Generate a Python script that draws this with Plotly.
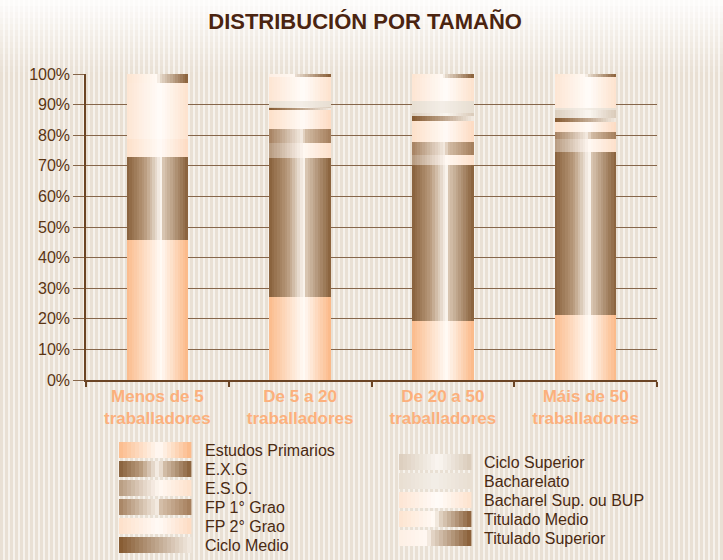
import plotly.graph_objects as go

# ---------------- data ----------------
categories = ["Menos de 5<br>traballadores", "De 5 a 20<br>traballadores",
              "De 20 a 50<br>traballadores", "Máis de 50<br>traballadores"]

series_names = ["Estudos Primarios", "E.X.G", "E.S.O.", "FP 1° Grao", "FP 2° Grao",
                "Ciclo Medio", "Ciclo Superior", "Bacharelato",
                "Bacharel Sup. ou BUP", "Titulado Medio", "Titulado Superior"]

estudos_primarios = [45.6, 27.1, 19.2, 21.1]
exg = [27.4, 45.6, 51.0, 53.5]
eso = [0.0, 4.6, 3.2, 4.1]
fp1 = [0.0, 4.6, 4.5, 2.4]
fp2 = [5.9, 6.3, 6.7, 3.3]
ciclo_medio = [0.0, 0.7, 1.6, 1.3]
ciclo_superior = [0.0, 0.3, 1.1, 2.4]
bacharelato = [0.0, 2.1, 3.8, 0.9]
bacharel_sup = [18.3, 7.6, 7.7, 9.9]
titulado_medio = [2.8, 0.0, 1.2, 1.1]
titulado_superior = [0.0, 1.1, 0.0, 0.0]

series_values = [estudos_primarios, exg, eso, fp1, fp2, ciclo_medio, ciclo_superior,
                 bacharelato, bacharel_sup, titulado_medio, titulado_superior]

y_tick_vals = [0, 10, 20, 30, 40, 50, 60, 70, 80, 90, 100]

# ---------------- styles (gradients) ----------------
gradients = [
    [(0, '#fbbb8b'), (0.56, '#fffaf5'), (1, '#fbb886')],                       # Estudos Primarios
    [(0, '#88603a'), (0.3, '#b89a7c'), (0.56, '#fbf6f0'), (0.6, '#d9c6b2'), (1, '#88603a')],  # EXG
    [(0, '#b69a7e'), (0.56, '#fff8f2'), (1, '#fde0ca')],                       # ESO
    [(0, '#a68160'), (0.55, '#f6eee5'), (0.57, '#d6c0aa'), (1, '#a47d5a')],    # FP1
    [(0, '#fde0c9'), (0.55, '#fffaf6'), (1, '#fddbc2')],                       # FP2
    [(0, '#85592f'), (1, '#f3ebe2')],                                          # Ciclo Medio
    [(0, '#dbcdbc'), (0.55, '#faf6f1'), (1, '#d9cab8')],                       # Ciclo Superior
    [(0, '#e8ded1'), (0.5, '#f3eee7'), (1, '#e8ded1')],                        # Bacharelato
    [(0, '#fde5d3'), (0.55, '#fffcf9'), (1, '#fde2cd')],                       # Bacharel Sup
    [(0, '#fde4d0'), (0.5, '#fffaf5'), (0.55, '#e6d9ca'), (1, '#8a6039')],     # Titulado Medio
    [(0, '#fdefe4'), (0.4, '#fff8f2'), (0.43, '#e9ddd0'), (1, '#875c34')],     # Titulado Superior
]


def hex2rgb(h):
    h = h.lstrip('#')
    return tuple(int(h[i:i + 2], 16) for i in (0, 2, 4))


def grad(stops, t):
    for (p0, c0), (p1, c1) in zip(stops[:-1], stops[1:]):
        if p0 <= t <= p1:
            f = 0 if p1 == p0 else (t - p0) / (p1 - p0)
            a, b = hex2rgb(c0), hex2rgb(c1)
            r = [round(a[k] + (b[k] - a[k]) * f) for k in range(3)]
            return 'rgb(%d,%d,%d)' % tuple(r)
    return stops[-1][1]


# geometry
W, H = 723, 560
L, R, T, B = 86, 66, 74, 180
PW, PH = W - L - R, H - T - B


def px(x):
    return (x - L) / PW


def py(y):
    return (H - B - y) / PH


fig = go.Figure()

N = 24
bar_w = 0.43
strip_w = bar_w / N
offsets = [-bar_w / 2 + (s + 0.5) * strip_w for s in range(N)]

for j, (name, vals) in enumerate(zip(series_names, series_values)):
    xs, ys, cols = [], [], []
    for i in range(len(categories)):
        for s in range(N):
            xs.append(i + offsets[s])
            ys.append(vals[i])
            cols.append(grad(gradients[j], (s + 0.5) / N))
    fig.add_trace(go.Bar(x=xs, y=ys, width=strip_w * 1.12, name=name,
                         marker=dict(color=cols, line=dict(width=0)),
                         showlegend=False, hoverinfo='skip'))

shapes = []
# background stripes
path = ''
for k in range(0, W // 5 + 2):
    x0, x1 = k * 5, k * 5 + 3
    path += 'M%.5f,%.5f H%.5f V%.5f H%.5f Z ' % (px(x0), py(0), px(x1), py(H), px(x0))
shapes.append(dict(type='path', path=path, xref='paper', yref='paper',
                   fillcolor='#e9e0d4', line=dict(width=0), layer='below'))
# top fade
fade_steps = 12
for k in range(fade_steps):
    y0 = k * 6
    op = 0.85 * (1 - k / fade_steps)
    shapes.append(dict(type='rect', xref='paper', yref='paper', x0=px(0), x1=px(W),
                       y0=py(y0), y1=py(y0 + 6), fillcolor='white', opacity=op,
                       line=dict(width=0), layer='below'))

annotations = []
# legend
left_rows = [450, 469, 488, 507, 526, 545]
right_rows = [462, 481, 500, 519, 538]
NS = 18
for j, name in enumerate(series_names):
    if j < 6:
        sx, cy, tx = 119, left_rows[j], 203
    else:
        sx, cy, tx = 399, right_rows[j - 6], 482
    sw = 72.0 / NS
    for s in range(NS):
        shapes.append(dict(type='rect', xref='paper', yref='paper',
                           x0=px(sx + s * sw), x1=px(sx + (s + 1) * sw + 0.4),
                           y0=py(cy + 8), y1=py(cy - 8),
                           fillcolor=grad(gradients[j], (s + 0.5) / NS),
                           line=dict(width=0), layer='above'))
    annotations.append(dict(xref='paper', yref='paper', x=px(tx), y=py(cy),
                            text=name, showarrow=False, xanchor='left', yanchor='middle',
                            font=dict(size=16, color='#4a2a12',
                                      family='Liberation Sans, Arial, sans-serif')))

fig.update_layout(
    width=W, height=H,
    margin=dict(l=L, r=R, t=T, b=B, pad=0),
    paper_bgcolor='#f6f2ec',
    plot_bgcolor='rgba(0,0,0,0)',
    barmode='stack',
    bargap=0,
    title=dict(text='<b>DISTRIBUCIÓN POR TAMAÑO</b>', x=0.505, xanchor='center',
               y=1 - 21 / H, yanchor='middle',
               font=dict(size=22, color='#4b2410', family='Liberation Sans, Arial, sans-serif')),
    font=dict(family='Liberation Sans, Arial, sans-serif', color='#5a3412'),
    shapes=shapes,
    annotations=annotations,
    showlegend=False,
)

fig.update_xaxes(
    range=[-0.5, 3.5], tickmode='array', tickvals=[0, 1, 2, 3], ticktext=categories,
    ticks='', showgrid=False, zeroline=False,
    showline=True, linecolor='#6b4424', linewidth=1.5,
    tickfont=dict(size=17, color='#fcb07c', family='Liberation Sans, Arial, sans-serif', weight='bold'),
    minor=dict(tickmode='array', tickvals=[-0.5, 0.5, 1.5, 2.5, 3.5], ticks='outside',
               ticklen=5, tickwidth=1.5, tickcolor='#6b4424', showgrid=False),
)
fig.update_yaxes(
    range=[0, 100], tickmode='array', tickvals=y_tick_vals,
    ticktext=['%d%%' % v for v in y_tick_vals],
    ticks='outside', ticklen=11, tickwidth=1.3, tickcolor='#86664a',
    showgrid=True, gridcolor='#86664a', gridwidth=1.3, zeroline=False,
    showline=True, linecolor='#6b4424', linewidth=1.5,
    tickfont=dict(size=16, color='#5a3412'),
)

fig.write_html('out.html', config={'displayModeBar': False},
               post_script="document.body.style.margin='0';document.body.style.padding='0';")
